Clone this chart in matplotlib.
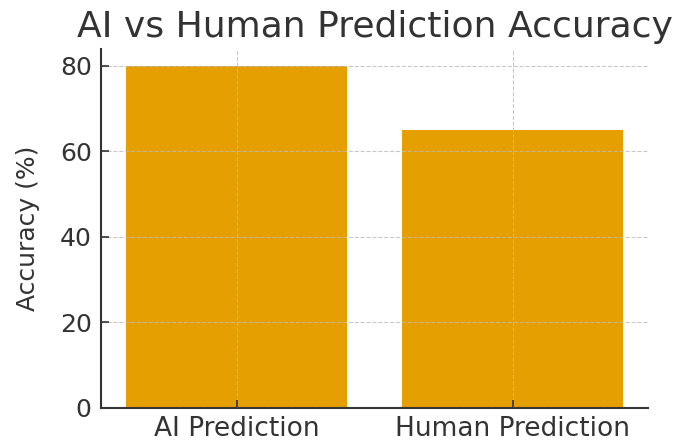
import matplotlib
matplotlib.use("Agg")
import matplotlib.pyplot as plt

categories = ["AI Prediction", "Human Prediction"]
accuracy = [80, 65]

plt.rcParams['font.family'] = ['DejaVu Sans']
plt.rcParams['text.color'] = '#333333'
plt.rcParams['axes.labelcolor'] = '#333333'
plt.rcParams['xtick.color'] = '#333333'
plt.rcParams['ytick.color'] = '#333333'

fig, ax = plt.subplots(figsize=(6.99, 4.41), dpi=100)
fig.subplots_adjust(left=0.145, right=0.927, top=0.89, bottom=0.075)

ax.bar(categories, accuracy, color='#E69F00', width=0.8)
ax.set_title("AI vs Human Prediction Accuracy", fontsize=26, color='#333333', pad=8)
ax.set_ylabel("Accuracy (%)", fontsize=18, labelpad=14)

ax.set_axisbelow(False)
ax.grid(True, linestyle='--', color='#bbbbbb', linewidth=0.8, alpha=0.8)
ax.set_yticks([0, 20, 40, 60, 80])
ax.tick_params(axis='y', direction='in', length=6, width=1.2, labelsize=18, pad=7)
ax.tick_params(axis='x', direction='in', length=6, width=1.2, labelsize=19, pad=6)

for side in ['top', 'right']:
    ax.spines[side].set_visible(False)
for side in ['left', 'bottom']:
    ax.spines[side].set_linewidth(1.5)
    ax.spines[side].set_color('#333333')

fig.savefig("out.png", dpi=100)
